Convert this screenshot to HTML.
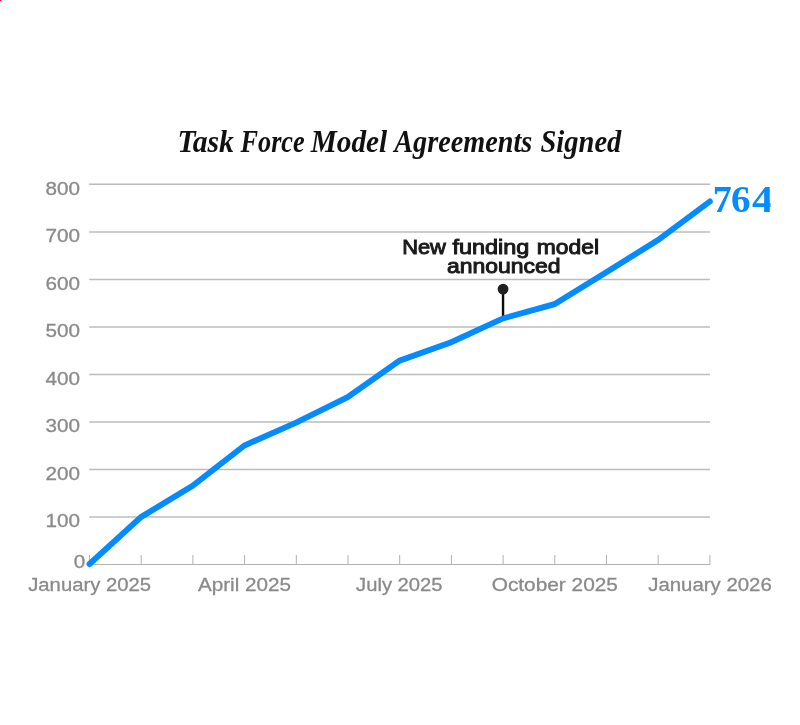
<!DOCTYPE html>
<html lang="en">
<head>
<meta charset="utf-8">
<title>Task Force Model Agreements Signed</title>
<style>
  html, body { margin: 0; padding: 0; background: #ffffff; }
  body { width: 800px; height: 725px; overflow: hidden; position: relative; }
  svg { position: absolute; left: 0; top: 0; display: block; }
  .title { font-family: "Liberation Serif", serif; font-weight: bold; font-style: italic; font-size: 31px; fill: #111111; }
  .ylab { font-family: "Liberation Sans", sans-serif; font-size: 19px; fill: #8a8a8a; stroke: #8a8a8a; stroke-width: 0.3px; }
  .xlab { font-family: "Liberation Sans", sans-serif; font-size: 19px; fill: #8a8a8a; stroke: #8a8a8a; stroke-width: 0.3px; }
  .anno { font-family: "Liberation Sans", sans-serif; font-weight: normal; font-size: 20px; fill: #1a1a1a; stroke: #1a1a1a; stroke-width: 0.95px; }
  .end  { font-family: "Liberation Serif", serif; font-weight: bold; font-size: 38px; fill: #038bff; }
</style>
</head>
<body>
<svg width="800" height="725" viewBox="0 0 800 725">
  <defs>
    <clipPath id="clipEnd"><rect x="700" y="170" width="70.5" height="60"/></clipPath>
  </defs>
  <rect x="0" y="0" width="800" height="725" fill="#ffffff"/>
  <rect x="0" y="0" width="1" height="1" fill="#ff0000" shape-rendering="crispEdges"/>
  <rect x="1" y="0" width="1" height="1" fill="#ffff00" shape-rendering="crispEdges"/>

  <text class="title" y="151.6"><tspan x="177.4" textLength="56.55" lengthAdjust="spacingAndGlyphs">Task</tspan> <tspan x="240.5" textLength="64.17" lengthAdjust="spacingAndGlyphs">Force</tspan> <tspan x="310.75" textLength="76.41" lengthAdjust="spacingAndGlyphs">Model</tspan> <tspan x="394.3" textLength="137.92" lengthAdjust="spacingAndGlyphs">Agreements</tspan> <tspan x="540.5" textLength="80.83" lengthAdjust="spacingAndGlyphs">Signed</tspan></text>

  <!-- gridlines -->
  <g stroke="#bcbcbc" stroke-width="1.5" fill="none">
    <line x1="89.2" y1="184.25" x2="710" y2="184.25"/>
    <line x1="89.2" y1="231.90" x2="710" y2="231.90"/>
    <line x1="89.2" y1="279.42" x2="710" y2="279.42"/>
    <line x1="89.2" y1="326.93" x2="710" y2="326.93"/>
    <line x1="89.2" y1="374.44" x2="710" y2="374.44"/>
    <line x1="89.2" y1="421.96" x2="710" y2="421.96"/>
    <line x1="89.2" y1="469.47" x2="710" y2="469.47"/>
    <line x1="89.2" y1="516.99" x2="710" y2="516.99"/>
  </g>
  <!-- axis + ticks -->
  <g stroke="#b2b2b2" stroke-width="1" fill="none">
    <line x1="89" y1="564.5" x2="710.2" y2="564.5"/>
    <path d="M89.50 555V565 M141.20 555V565 M192.90 555V565 M244.60 555V565 M296.30 555V565 M348.00 555V565 M399.70 555V565 M451.40 555V565 M503.10 555V565 M554.80 555V565 M606.50 555V565 M658.20 555V565 M709.90 555V565"/>
  </g>

  <!-- y labels -->
  <g class="ylab" text-anchor="end">
    <text transform="translate(80,194.9) scale(1.09,1)">800</text>
    <text transform="translate(80,242.4) scale(1.09,1)">700</text>
    <text transform="translate(80,289.9) scale(1.09,1)">600</text>
    <text transform="translate(80,337.4) scale(1.09,1)">500</text>
    <text transform="translate(80,384.9) scale(1.09,1)">400</text>
    <text transform="translate(80,432.4) scale(1.09,1)">300</text>
    <text transform="translate(80,479.9) scale(1.09,1)">200</text>
    <text transform="translate(80,527.4) scale(1.09,1)">100</text>
    <text transform="translate(85.3,568.3) scale(1.09,1)">0</text>
  </g>

  <!-- x labels -->
  <g class="xlab" text-anchor="middle">
    <text transform="translate(89.6,590.7) scale(1.067,1)">January 2025</text>
    <text transform="translate(244.4,590.7) scale(1.087,1)">April 2025</text>
    <text transform="translate(399.3,590.7) scale(1.0625,1)">July 2025</text>
    <text transform="translate(554.8,590.7) scale(1.097,1)">October 2025</text>
    <text transform="translate(710,590.7) scale(1.074,1)">January 2026</text>
  </g>

  <!-- annotation -->
  <text class="anno" y="253.9"><tspan x="402.15" textLength="43.78" lengthAdjust="spacingAndGlyphs">New</tspan> <tspan x="452.5" textLength="76.91" lengthAdjust="spacingAndGlyphs">funding</tspan> <tspan x="536.75" textLength="62.22" lengthAdjust="spacingAndGlyphs">model</tspan> <tspan x="447" y="272.6" textLength="113.44" lengthAdjust="spacingAndGlyphs">announced</tspan></text>
  <line x1="503.05" y1="289" x2="503.05" y2="317.5" stroke="#0a0a0a" stroke-width="2.4"/>
  <circle cx="503.05" cy="289.1" r="5.4" fill="#202020"/>

  <!-- data line -->
  <polyline fill="none" stroke="#038bff" stroke-width="5.9" stroke-linecap="round" stroke-linejoin="miter"
    points="89.50,564.02 141.20,516.91 192.60,485.90 244.40,445.46 296.10,422.66 347.60,397.20 399.50,360.64 451.20,342.16 502.90,318.43 554.40,304.17 606.30,272.14 658.00,240.13 709.80,201.49"/>

  <g clip-path="url(#clipEnd)">
    <text class="end" y="211.5"><tspan x="712.75" textLength="19.00" lengthAdjust="spacingAndGlyphs">7</tspan><tspan x="730.9" textLength="19.57" lengthAdjust="spacingAndGlyphs">6</tspan><tspan x="751.9" textLength="21.28" lengthAdjust="spacingAndGlyphs">4</tspan></text>
  </g>
</svg>
</body>
</html>
